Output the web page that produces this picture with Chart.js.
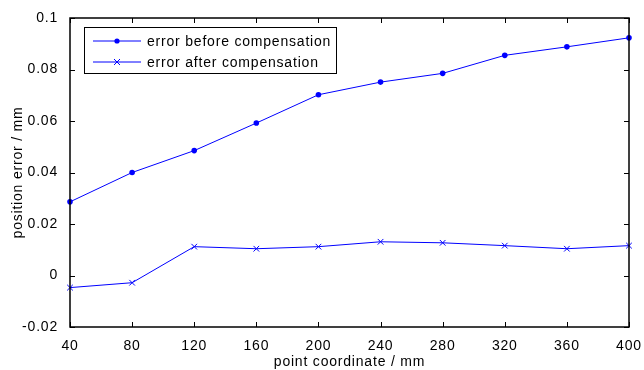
<!DOCTYPE html>
<html>
<head>
<meta charset="utf-8">
<script src="https://cdn.jsdelivr.net/npm/chart.js@4"></script>
<style>
  html, body { margin: 0; padding: 0; background: #fff; }
  #wrap { width: 644px; height: 370px; }
</style>
</head>
<body>
<div id="wrap"><canvas id="chart" width="644" height="370"></canvas></div>
<script>
// point coordinates along the axis (mm)
const coords = [40, 80, 120, 160, 200, 240, 280, 320, 360, 400];

// measured position error (mm)
const errBefore = [0.0286, 0.0400, 0.0485, 0.0592, 0.0702, 0.0751, 0.0785, 0.0855, 0.0888, 0.0923];
const errAfter  = [-0.0047, -0.0028, 0.0112, 0.0104, 0.0112, 0.0131, 0.0127, 0.0116, 0.0104, 0.0116];

const xTicks = [40, 80, 120, 160, 200, 240, 280, 320, 360, 400];
const yTicks = [-0.02, 0, 0.02, 0.04, 0.06, 0.08, 0.1];

const seriesNames = ['error before compensation', 'error after compensation'];

const FONT = 'Liberation Sans, Arial, Helvetica, sans-serif';
const FSIZE = 14;
const BLUE = '#0000ff';

// slightly wider text, like the exported figure
const textSpacing = {
    id: 'textSpacing',
    beforeDraw(chart) { chart.ctx.letterSpacing = '0.8px'; }
};

// box around the axes with inward ticks on all four sides
const framePlugin = {
    id: 'frame',
    afterDatasetsDraw(chart) {
        const { ctx, chartArea: a, scales } = chart;
        const len = 5;
        ctx.save();
        ctx.strokeStyle = '#000';
        ctx.lineWidth = 1;
        ctx.beginPath();
        xTicks.forEach(v => {
            const x = Math.round(scales.x.getPixelForValue(v)) + 0.5;
            ctx.moveTo(x, a.bottom); ctx.lineTo(x, a.bottom - len);
            ctx.moveTo(x, a.top); ctx.lineTo(x, a.top + len);
        });
        yTicks.forEach(v => {
            const y = Math.round(scales.y.getPixelForValue(v)) + 0.5;
            ctx.moveTo(a.left, y); ctx.lineTo(a.left + len, y);
            ctx.moveTo(a.right, y); ctx.lineTo(a.right - len, y);
        });
        ctx.stroke();
        ctx.lineWidth = 1.5;
        ctx.strokeRect(a.left, a.top, a.right - a.left, a.bottom - a.top);
        ctx.restore();
    }
};

// legend box drawn inside the upper-left corner of the axes
const boxLegend = {
    id: 'boxLegend',
    afterDraw(chart) {
        const { ctx, chartArea: a } = chart;
        const bx = a.left + 14, by = a.top + 9, bw = 252, bh = 46;
        ctx.save();
        ctx.fillStyle = '#fff';
        ctx.fillRect(bx, by, bw, bh);
        ctx.strokeStyle = '#000';
        ctx.lineWidth = 1;
        ctx.strokeRect(bx + 0.5, by + 0.5, bw, bh);
        ctx.font = FSIZE + 'px ' + FONT;
        ctx.textBaseline = 'middle';
        chart.data.datasets.forEach((ds, i) => {
            const y = by + 14 + i * 21;
            const x0 = bx + 9, x1 = bx + 57;
            ctx.strokeStyle = ds.borderColor;
            ctx.lineWidth = 1;
            ctx.beginPath();
            ctx.moveTo(x0, y); ctx.lineTo(x1, y);
            ctx.stroke();
            const mx = (x0 + x1) / 2;
            if (ds.pointStyle === 'circle') {
                ctx.fillStyle = ds.borderColor;
                ctx.beginPath();
                ctx.arc(mx, y, 2.6, 0, Math.PI * 2);
                ctx.fill();
            } else {
                ctx.beginPath();
                ctx.moveTo(mx - 3, y - 3); ctx.lineTo(mx + 3, y + 3);
                ctx.moveTo(mx + 3, y - 3); ctx.lineTo(mx - 3, y + 3);
                ctx.stroke();
            }
            ctx.fillStyle = '#000';
            ctx.fillText(ds.label, bx + 63, y + 1);
        });
        ctx.restore();
    }
};

new Chart(document.getElementById('chart'), {
    type: 'line',
    data: {
        datasets: [
            {
                label: seriesNames[0],
                data: coords.map((c, i) => ({ x: c, y: errBefore[i] })),
                borderColor: BLUE,
                backgroundColor: BLUE,
                borderWidth: 1,
                pointStyle: 'circle',
                pointRadius: 2.8,
                pointBorderWidth: 0,
                tension: 0
            },
            {
                label: seriesNames[1],
                data: coords.map((c, i) => ({ x: c, y: errAfter[i] })),
                borderColor: BLUE,
                backgroundColor: BLUE,
                borderWidth: 1,
                pointStyle: 'crossRot',
                pointRadius: 4,
                pointBorderWidth: 1,
                tension: 0
            }
        ]
    },
    options: {
        responsive: false,
        animation: false,
        clip: false,
        layout: { padding: { top: 18, right: 15, left: 0, bottom: 0 } },
        plugins: { legend: { display: false }, tooltip: { enabled: false } },
        scales: {
            x: {
                type: 'linear',
                min: 40, max: 400,
                afterBuildTicks: s => { s.ticks = xTicks.map(v => ({ value: v })); },
                afterFit: s => { s.height = 43; },
                grid: { display: false },
                border: { display: false },
                ticks: { color: '#000', font: { family: FONT, size: FSIZE }, padding: 3, maxRotation: 0 },
                title: { display: true, text: 'point coordinate / mm', color: '#000', font: { family: FONT, size: FSIZE }, padding: { top: 0, bottom: -1 } }
            },
            y: {
                type: 'linear',
                min: -0.02, max: 0.1,
                afterBuildTicks: s => { s.ticks = yTicks.map(v => ({ value: v })); },
                afterFit: s => { s.width = 70; },
                grid: { display: false },
                border: { display: false },
                ticks: {
                    color: '#000', font: { family: FONT, size: FSIZE }, padding: 4,
                    callback: v => String(Math.round(v * 100) / 100)
                },
                title: { display: true, text: 'position error / mm', color: '#000', font: { family: FONT, size: FSIZE }, padding: { top: 10, bottom: 0 } }
            }
        }
    },
    plugins: [textSpacing, framePlugin, boxLegend]
});
</script>
</body>
</html>
